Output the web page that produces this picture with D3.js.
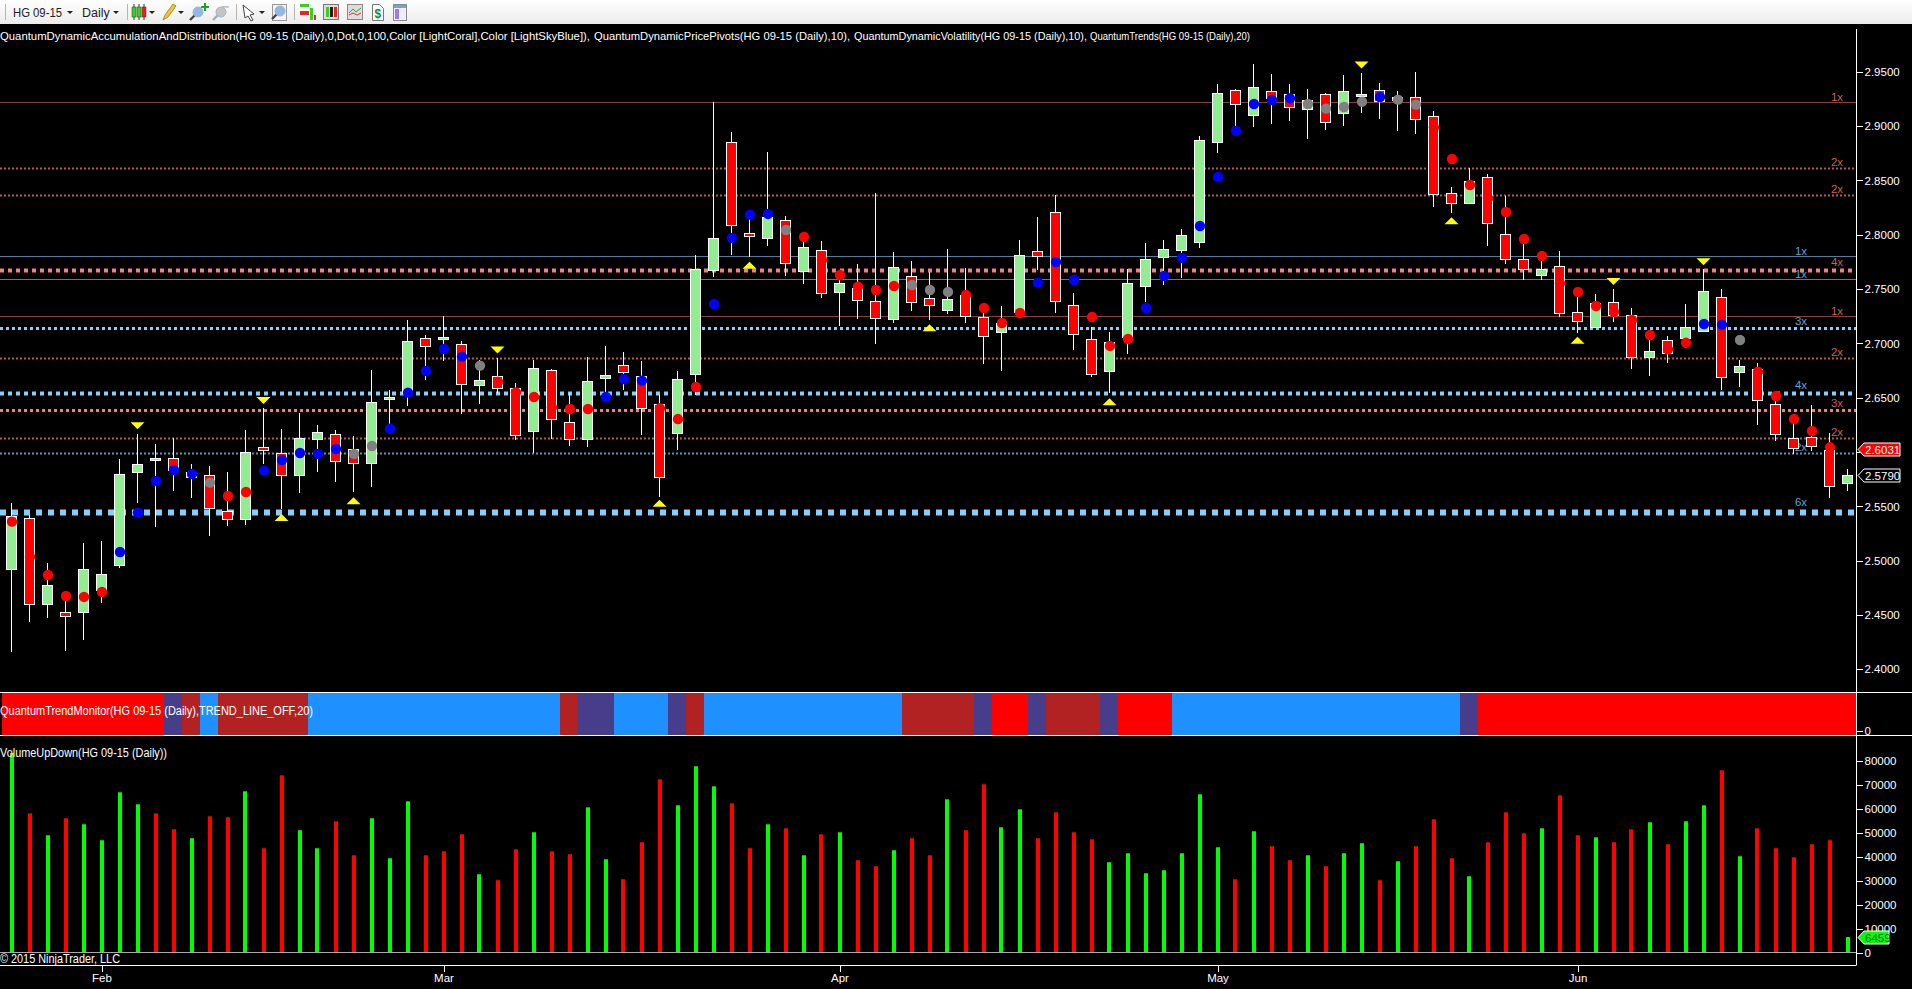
<!DOCTYPE html>
<html>
<head>
<meta charset="utf-8">
<script src="https://cdnjs.cloudflare.com/ajax/libs/d3/7.8.5/d3.min.js"></script>
<style>
html,body{margin:0;padding:0;background:#000;overflow:hidden}
svg{display:block}
text{font-family:"Liberation Sans",Arial,sans-serif}
</style>
</head>
<body>
<script>
const opens=[2.4926,2.5390,2.4604,2.4524,2.4531,2.4730,2.4963,2.5819,2.5930,2.5942,2.5773,2.5785,2.5454,2.5387,2.6046,2.5988,2.5791,2.6123,2.6163,2.6025,2.5902,2.6491,2.6540,2.7046,2.7043,2.6991,2.6620,2.6697,2.6586,2.6196,2.6752,2.6273,2.6123,2.6684,2.6798,2.6699,2.6439,2.6172,2.6721,2.7678,2.8850,2.8013,2.7973,2.8132,2.7669,2.7856,2.7476,2.7506,2.7387,2.7227,2.7617,2.7414,2.7310,2.7445,2.7240,2.7108,2.7292,2.7847,2.8206,2.7350,2.7037,2.6749,2.7062,2.7531,2.7798,2.7862,2.7936,2.8856,2.9329,2.9105,2.9320,2.9295,2.9154,2.9292,2.9117,2.9280,2.9329,2.9240,2.9264,2.9089,2.8381,2.8295,2.8528,2.8003,2.7773,2.7632,2.7709,2.7285,2.7153,2.7377,2.7264,2.6871,2.7028,2.7046,2.7117,2.7423,2.6739,2.6761,2.6439,2.6126,2.6135,2.6018,2.5718];
const closes=[2.5411,2.4604,2.4773,2.4494,2.4920,2.4874,2.5795,2.5887,2.5945,2.5834,2.5819,2.5488,2.5387,2.5997,2.6022,2.5791,2.6126,2.6181,2.5920,2.5902,2.6457,2.6503,2.7019,2.6979,2.7056,2.6629,2.6660,2.6592,2.6160,2.6770,2.6307,2.6123,2.6651,2.6706,2.6739,2.6402,2.5772,2.6669,2.7681,2.7967,2.8092,2.7991,2.8166,2.7743,2.7884,2.7467,2.7553,2.7402,2.7236,2.7700,2.7384,2.7356,2.7405,2.7255,2.7071,2.7184,2.7810,2.7807,2.7393,2.7089,2.6721,2.7009,2.7553,2.7773,2.7865,2.7994,2.8869,2.9301,2.9206,2.9357,2.9255,2.9178,2.9240,2.9034,2.9319,2.9292,2.9230,2.9264,2.9068,2.8378,2.8295,2.8491,2.8111,2.7779,2.7687,2.7681,2.7282,2.7203,2.7368,2.7264,2.6871,2.6926,2.6908,2.7147,2.7479,2.6693,2.6791,2.6475,2.6162,2.6040,2.6058,2.5690,2.5790];
const highs=[2.5531,2.5417,2.4978,2.4669,2.5159,2.5181,2.5933,2.6166,2.6074,2.6129,2.5887,2.5871,2.5813,2.6203,2.6405,2.6212,2.6359,2.6249,2.6203,2.6147,2.6755,2.6571,2.7215,2.7077,2.7252,2.7022,2.6847,2.6868,2.6632,2.6847,2.6764,2.6540,2.6871,2.6976,2.6921,2.6838,2.6525,2.6746,2.7813,2.9218,2.8945,2.8185,2.8761,2.8172,2.7982,2.7939,2.7632,2.7730,2.8384,2.7841,2.7758,2.7660,2.7869,2.7697,2.7325,2.7344,2.7951,2.8163,2.8366,2.7460,2.7154,2.7105,2.7681,2.7924,2.7948,2.8053,2.8909,2.9387,2.9341,2.9571,2.9479,2.9387,2.9341,2.9301,2.9470,2.9485,2.9396,2.9323,2.9497,2.9138,2.8439,2.8611,2.8559,2.8356,2.7914,2.7767,2.7850,2.7430,2.7454,2.7497,2.7325,2.7031,2.7068,2.7362,2.7681,2.7497,2.6847,2.6816,2.6515,2.6304,2.6432,2.6172,2.5843];
const lows=[2.4162,2.4439,2.4475,2.4172,2.4273,2.4613,2.4936,2.5534,2.5313,2.5644,2.5580,2.5230,2.5322,2.5331,2.5890,2.5475,2.5626,2.5816,2.5724,2.5632,2.5681,2.6255,2.6423,2.6663,2.6841,2.6353,2.6442,2.6540,2.6111,2.5988,2.6120,2.6055,2.6046,2.6552,2.6571,2.6156,2.5588,2.6018,2.6525,2.7614,2.7813,2.7798,2.7899,2.7623,2.7546,2.7418,2.7160,2.7224,2.6997,2.7190,2.7298,2.7215,2.7270,2.7187,2.6810,2.6746,2.7276,2.7675,2.7279,2.6939,2.6693,2.6540,2.6902,2.7378,2.7540,2.7605,2.7881,2.8755,2.8955,2.8994,2.9021,2.9049,2.8884,2.8964,2.9000,2.9123,2.9065,2.8957,2.8930,2.8258,2.8203,2.8282,2.7896,2.7730,2.7583,2.7583,2.7245,2.7098,2.7147,2.7199,2.6764,2.6699,2.6822,2.6954,2.7107,2.6571,2.6601,2.6248,2.6104,2.5981,2.6012,2.5580,2.5644];
const dotPrices=[2.5359,2.5037,2.4868,2.4675,2.4666,2.4712,2.5080,2.5442,2.5733,2.5834,2.5798,2.5718,2.5595,2.5632,2.5828,2.5926,2.5991,2.5982,2.6028,2.5982,2.6055,2.6215,2.6546,2.6746,2.6948,2.6878,2.6795,2.6647,2.6549,2.6506,2.6411,2.6396,2.6396,2.6506,2.6672,2.6657,2.6402,2.6303,2.6598,2.7362,2.7970,2.8185,2.8191,2.8043,2.7979,2.7767,2.7629,2.7522,2.7491,2.7528,2.7537,2.7491,2.7473,2.7445,2.7325,2.7187,2.7279,2.7559,2.7749,2.7583,2.7243,2.6976,2.7040,2.7325,2.7620,2.7786,2.8080,2.8531,2.8955,2.9203,2.9240,2.9255,2.9203,2.9160,2.9175,2.9224,2.9267,2.9243,2.9197,2.8988,2.8697,2.8457,2.8335,2.8209,2.7960,2.7804,2.7552,2.7473,2.7344,2.7291,2.7215,2.7077,2.6945,2.7006,2.7178,2.7172,2.7031,2.6739,2.6515,2.6304,2.6193,2.6043];
const dotKinds="rrrrrrbbbbbnrrbbbbbnnbbbbbnrrrrrrbbbrrrbbbbnrrrrrrnnnrrrrbbbrrrbbbbbbbbbnnnnbnnrrrrrrrrrrrrrrrbbnrrrrr";
const volumes=[83339,58156,48974,56070,53565,46887,66922,61913,58156,51478,47722,56904,56487,67339,43548,74017,51061,43548,54817,40626,56070,39374,63165,40626,42296,49391,32696,30191,43130,50226,42296,41043,60661,38956,30609,46052,72348,61495,77774,69426,62330,43548,53565,51895,40626,49391,50226,38539,36035,42713,47722,40626,64000,51061,70261,52313,59826,47722,58574,50226,47304,37704,41461,33113,34365,41461,66087,43965,30609,50643,44382,38539,40626,36035,41461,45635,30191,38122,44382,55652,39374,31861,46052,58574,49809,51895,65669,48974,48139,46052,51478,54400,45217,54817,61495,76104,40209,51895,43548,39791,45217,46887,6459];
const volumeColors="grgrggggrrgrrgrrggrrgggrrrgrrgrrggrrrgggrrgrgrgrrgrrgrrggrrrrgggggggrgrrgrggrgrrrgrrrgrrgrrgrggrgrrrrrg";
const priceTicks=[2.40,2.45,2.50,2.55,2.60,2.65,2.70,2.75,2.80,2.85,2.90,2.95];
const volumeTicks=[0,10000,20000,30000,40000,50000,60000,70000,80000];
const monthBars=[5,24,46,67,87];
const monthLabels=["Feb","Mar","Apr","May","Jun"];
const levelPrices=[2.9218,2.8611,2.8362,2.7801,2.7672,2.7589,2.7249,2.7138,2.6862,2.6540,2.6384,2.6126,2.5988,2.5445];
const levelMultiples=[1,2,2,1,4,1,1,3,2,4,3,2,2,6];
const levelSides=["s","s","s","d","s","d","s","d","s","d","s","s","d","d"];
const triUpBars=[15,19,36,41,51,61,80,87];
const triUpPrices=[2.5396,2.5552,2.5528,2.7718,2.7144,2.6463,2.8129,2.7028];
const triDownBars=[7,14,27,75,89,94];
const triDownPrices=[2.6242,2.6473,2.6939,2.9562,2.7568,2.7752];
const trendStates=["red","slate","brick","blue","brick","blue","brick","slate","blue","slate","brick","blue","brick","slate","red","slate","brick","slate","red","blue","slate","red"];
const trendLengths=[9,1,1,1,5,14,1,2,3,1,1,11,4,1,2,1,3,1,3,16,1,21];
const trendColors={red:"#FF0000",slate:"#483D8B",brick:"#B22222",blue:"#1E90FF"};
const headerTexts=["QuantumDynamicAccumulationAndDistribution(HG 09-15 (Daily),0,Dot,0,100,Color [LightCoral],Color [LightSkyBlue]),","QuantumDynamicPricePivots(HG 09-15 (Daily),10),","QuantumDynamicVolatility(HG 09-15 (Daily),10),","QuantumTrends(HG 09-15 (Daily),20)"];
const headerStarts=[0,594,854,1090];
const headerEnds=[590,850,1087,1250];

const W=1912,H=989,axisX=1856;
const svg=d3.select("body").append("svg").attr("width",W).attr("height",H).style("background","#000");
const x=d3.scaleLinear().domain([0,102]).range([11.5,1847.5]);
const y=d3.scaleLinear().domain([2.95,2.40]).range([71.7,669.3]);
const yV=d3.scaleLinear().domain([0,80000]).range([952.5,761]);
const band=d3.scaleBand().domain(d3.range(103)).range([2,axisX]);
const py=p=>Math.round(y(p));

// ---------- toolbar
const defs=svg.append("defs");
const grad=defs.append("linearGradient").attr("id","tb").attr("x1",0).attr("x2",0).attr("y1",0).attr("y2",1);
grad.append("stop").attr("offset","0").attr("stop-color","#ffffff");
grad.append("stop").attr("offset","1").attr("stop-color","#ececec");
const tb=svg.append("g");
tb.append("rect").attr("width",W).attr("height",24).attr("fill","url(#tb)");
[5,127,236,294].forEach(v=>tb.append("line").attr("x1",v+.5).attr("x2",v+.5).attr("y1",4).attr("y2",20).attr("stroke","#b5b5b5"));
tb.append("text").attr("x",13).attr("y",17).attr("font-size",12.5).attr("fill","#222").attr("textLength",49).attr("lengthAdjust","spacingAndGlyphs").text("HG 09-15");
tb.append("text").attr("x",82).attr("y",17).attr("font-size",12.5).attr("fill","#222").text("Daily");
[70,116,152,181,262].forEach(v=>tb.append("path").attr("d",`M${v-3},11h6l-3,3z`).attr("fill","#222"));
function candleIcon(ox){[[0,"#37d21e"],[5,"#37d21e"],[10,"#e22"]].forEach(([d,c])=>{
 tb.append("line").attr("x1",ox+d+2).attr("x2",ox+d+2).attr("y1",4).attr("y2",20).attr("stroke","#333");
 tb.append("rect").attr("x",ox+d).attr("y",7).attr("width",4).attr("height",10).attr("fill",c).attr("stroke","#333").attr("stroke-width",.5);});}
candleIcon(132);
tb.append("path").attr("d","M163,20l2,-5l8,-11l3,2l-8,11z").attr("fill","#f4c430").attr("stroke","#8a6d1a").attr("stroke-width",.7);
function lens(cx,cy,col){tb.append("line").attr("x1",cx-3).attr("y1",cy+3).attr("x2",cx-8).attr("y2",cy+8).attr("stroke",col==="#c4c4c4"?"#aaa":"#444").attr("stroke-width",2.4);
 tb.append("circle").attr("cx",cx).attr("cy",cy).attr("r",5).attr("fill",col).attr("stroke","#9fb6c9");}
lens(198,12,"#8fb8e8");
tb.append("path").attr("d","M201,6h3v-3h2v3h3v2h-3v3h-2v-3h-3z").attr("fill","#11a82a");
lens(221,12,"#c4c4c4");
tb.append("rect").attr("x",222).attr("y",6).attr("width",7).attr("height",1.6).attr("fill","#bbb");
tb.append("path").attr("d","M243,5l11,9l-4,1l3,5l-2,1l-3,-5l-3,2z").attr("fill","#fff").attr("stroke","#444");
tb.append("rect").attr("x",272.5).attr("y",4.5).attr("width",14).attr("height",16).attr("fill","#f4f4f4").attr("stroke","#999");
lens(280,11,"#8fb8e8");
tb.append("rect").attr("x",300).attr("y",4).attr("width",9).attr("height",3).attr("fill","#37d21e");
tb.append("rect").attr("x",300).attr("y",11).attr("width",9).attr("height",4).attr("fill","#e22");
tb.append("rect").attr("x",310).attr("y",8).attr("width",3).attr("height",12).attr("fill","#37d21e");
tb.append("rect").attr("x",314).attr("y",15).attr("width",2).attr("height",5).attr("fill","#c33");
tb.append("rect").attr("x",323.5).attr("y",4.5).attr("width",15).attr("height",15).attr("fill","#ddd").attr("stroke","#777");
[[326,"#37d21e"],[330,"#222"],[334,"#e22"]].forEach(([v,c])=>tb.append("rect").attr("x",v).attr("y",7).attr("width",3).attr("height",10).attr("fill",c));
tb.append("rect").attr("x",347.5).attr("y",4.5).attr("width",15).attr("height",15).attr("fill","#ddd").attr("stroke","#888");
tb.append("path").attr("d","M349,13l4,-4l3,3l5,-4").attr("fill","none").attr("stroke","#2aa52a");
tb.append("path").attr("d","M349,15l4,-2l4,2l4,-2").attr("fill","none").attr("stroke","#d33");
tb.append("path").attr("d","M372.5,4.5h7l4,4v12h-11z").attr("fill","#fff").attr("stroke","#777");
tb.append("text").attr("x",374.5).attr("y",18).attr("font-size",12).attr("font-weight","bold").attr("fill","#1a8a30").text("$");
tb.append("rect").attr("x",393.5).attr("y",4.5).attr("width",13).attr("height",16).attr("fill","#eef").attr("stroke","#888");
tb.append("rect").attr("x",394).attr("y",5).attr("width",12).attr("height",3).attr("fill","#6aa7e0");
tb.append("rect").attr("x",395).attr("y",9).attr("width",4).attr("height",10).attr("fill","#9a7be8");

// ---------- price pivot lines
const sideColor={s:"#F08080",d:"#87CEFA"}, solidColor={s:"#8a3f3f",d:"#4f7f9f"};
const levels=d3.range(levelPrices.length).map(i=>({p:levelPrices[i],n:levelMultiples[i],s:levelSides[i]}));
svg.append("g").selectAll("line").data(levels).join("line")
 .attr("x1",0).attr("x2",axisX)
 .attr("y1",d=>Math.round(y(d.p))+.5).attr("y2",d=>Math.round(y(d.p))+.5)
 .attr("stroke",d=>d.n===1?solidColor[d.s]:sideColor[d.s])
 .attr("stroke-width",d=>d.n)
 .attr("stroke-dasharray",d=>d.n===1?null:`${d.n} ${d.n}`)
 .attr("opacity",d=>d.n===2?0.72:1);
svg.append("g").selectAll("text").data(levels).join("text")
 .attr("x",d=>d.s==="s"?1837:1801).attr("text-anchor","middle")
 .attr("y",d=>y(d.p)-(4+d.n)).attr("dy","0.36em").attr("font-size",11.5)
 .attr("fill",d=>d.s==="s"?"#c8605c":"#5ba3dc").text(d=>d.n+"x");

// ---------- candles
const idx=d3.range(opens.length);
const gc=svg.append("g");
gc.selectAll("line").data(idx).join("line")
 .attr("x1",i=>x(i)).attr("x2",i=>x(i)).attr("y1",i=>py(highs[i])).attr("y2",i=>py(lows[i]))
 .attr("stroke","#fff").attr("shape-rendering","crispEdges");
gc.selectAll("rect").data(idx).join("rect")
 .attr("x",i=>x(i)-5).attr("width",10)
 .attr("y",i=>py(Math.max(opens[i],closes[i]))+.5)
 .attr("height",i=>Math.max(1,py(Math.min(opens[i],closes[i]))-py(Math.max(opens[i],closes[i]))))
 .attr("fill",i=>closes[i]>=opens[i]?"#90EE90":"#FF0000")
 .attr("stroke","#fff").attr("shape-rendering","crispEdges");

// ---------- dots
const dotColor={r:"#FF0000",b:"#0000FF",n:"#808080"};
svg.append("g").selectAll("circle").data(dotPrices).join("circle")
 .attr("cx",(d,i)=>x(i)+.5).attr("cy",d=>y(d)).attr("r",5.2)
 .attr("fill",(d,i)=>dotColor[dotKinds[i]]);

// ---------- triangles
const ga=svg.append("g").attr("fill","#FFFF00");
ga.selectAll("path.u").data(triUpBars).join("path").attr("class","u")
 .attr("d",(b,i)=>{const X=x(b),Y=y(triUpPrices[i]);return `M${X-7},${Y+3.5}L${X},${Y-3.5}L${X+7},${Y+3.5}Z`;});
ga.selectAll("path.d").data(triDownBars).join("path").attr("class","d")
 .attr("d",(b,i)=>{const X=x(b),Y=y(triDownPrices[i]);return `M${X-7},${Y-3.5}L${X},${Y+3.5}L${X+7},${Y-3.5}Z`;});

// ---------- header
svg.append("g").selectAll("text").data(headerTexts).join("text")
 .attr("x",(d,i)=>headerStarts[i]).attr("y",40).attr("font-size",(d,i)=>i===3?10.5:11.5).attr("fill","#fff")
 .attr("textLength",(d,i)=>headerEnds[i]-headerStarts[i])
 .attr("lengthAdjust","spacingAndGlyphs").text(d=>d);

// ---------- trend monitor
let cum=0;
const runs=trendStates.map((s,i)=>{const r={s,start:cum,len:trendLengths[i]};cum+=trendLengths[i];return r;});
svg.append("g").selectAll("rect").data(runs).join("rect")
 .attr("x",d=>band(d.start)).attr("width",d=>d.len*band.step())
 .attr("y",693).attr("height",42).attr("fill",d=>trendColors[d.s]);
[692.5,735.5].forEach(v=>svg.append("line").attr("x1",0).attr("x2",W).attr("y1",v).attr("y2",v).attr("stroke","#fff"));
svg.append("text").attr("x",0).attr("y",715).attr("font-size",12).attr("fill","#fff")
 .attr("textLength",313).attr("lengthAdjust","spacingAndGlyphs").text("QuantumTrendMonitor(HG 09-15 (Daily),TREND_LINE_OFF,20)");

// ---------- volume
svg.append("g").selectAll("rect").data(volumes).join("rect")
 .attr("x",(d,i)=>Math.round(x(i))-2).attr("width",4)
 .attr("y",d=>yV(d)).attr("height",d=>yV(0)-yV(d))
 .attr("fill",(d,i)=>volumeColors[i]==="g"?"#00FF00":"#FF0000");
svg.append("line").attr("x1",0).attr("x2",axisX).attr("y1",952.5).attr("y2",952.5).attr("stroke","#aaa");
svg.append("text").attr("x",0).attr("y",757).attr("font-size",12).attr("fill","#fff")
 .attr("textLength",167).attr("lengthAdjust","spacingAndGlyphs").text("VolumeUpDown(HG 09-15 (Daily))");
svg.append("text").attr("x",0).attr("y",963).attr("font-size",12).attr("fill","#fff")
 .attr("textLength",120).attr("lengthAdjust","spacingAndGlyphs").text("© 2015 NinjaTrader, LLC");

// ---------- axes
function styleAxis(g){g.select(".domain").remove();
 g.selectAll("line").attr("stroke","#fff").attr("shape-rendering","crispEdges");
 g.selectAll("text").attr("fill","#fff").attr("font-size",11.5).attr("font-family",'"Liberation Sans",Arial,sans-serif');}
svg.append("g").attr("transform",`translate(${axisX+.5},0)`)
 .call(d3.axisRight(y).tickValues(priceTicks).tickFormat(d3.format(".4f")).tickSize(6).tickPadding(2)).call(styleAxis);
svg.append("g").attr("transform",`translate(${axisX+.5},0)`)
 .call(d3.axisRight(yV).tickValues(volumeTicks).tickFormat(d3.format("d")).tickSize(6).tickPadding(2)).call(styleAxis);
const trendAxis=d3.scaleLinear().domain([0,1]).range([730.5,700]);
svg.append("g").attr("transform",`translate(${axisX+.5},0)`)
 .call(d3.axisRight(trendAxis).tickValues([0]).tickFormat(d3.format("d")).tickSize(6).tickPadding(2)).call(styleAxis);
svg.append("line").attr("x1",axisX+.5).attr("x2",axisX+.5).attr("y1",29).attr("y2",965.5).attr("stroke","#fff");
svg.append("g").attr("transform","translate(0,965.5)")
 .call(d3.axisBottom(x).tickValues(monthBars).tickFormat((d,i)=>monthLabels[i]).tickSize(6).tickPadding(2)).call(styleAxis);
svg.append("line").attr("x1",0).attr("x2",axisX).attr("y1",965.5).attr("y2",965.5).attr("stroke","#fff");

// ---------- value tags
function tag(yPos,label,fill,textFill,w){
 const g=svg.append("g").attr("transform",`translate(1858,${yPos})`);
 g.append("path").attr("d",`M0,0L6,-6.5H${w}V6.5H6Z`).attr("fill",fill).attr("stroke","#fff");
 g.append("text").attr("x",7).attr("y",0).attr("dy","0.36em").attr("font-size",11.5).attr("fill",textFill).text(label);
}
const tagOpen=2.6031, tagClose=2.5790, tagVolume=volumes[volumes.length-1];
tag(Math.round(y(tagOpen))+.5,tagOpen.toFixed(4),"#FF0000","#fff",42);
tag(Math.round(y(tagClose))+.5,tagClose.toFixed(4),"#000","#fff",42);
tag(Math.round(yV(tagVolume))+.5,String(tagVolume),"#00FF00","#063",31);
</script>
</body>
</html>
